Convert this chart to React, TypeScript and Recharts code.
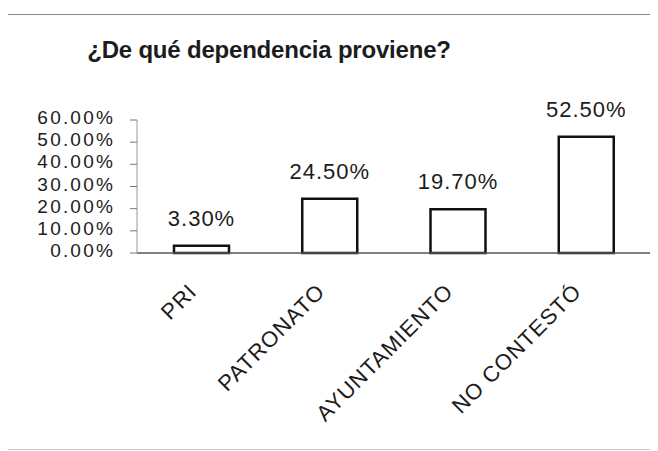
import { BarChart, Bar, XAxis, YAxis, LabelList } from "recharts";

const categories = ["PRI", "PATRONATO", "AYUNTAMIENTO", "NO CONTESTÓ"];
const values = [3.3, 24.5, 19.7, 52.5];
const yTicks = [0, 10, 20, 30, 40, 50, 60];
const title = "¿De qué dependencia proviene?";

const data = categories.map((name, i) => ({ name, value: values[i] }));

const FONT = "'Liberation Sans', Arial, sans-serif";
const INK = "#1c1c1c";

const pct = (v: number) => `${v.toFixed(2)}%`;

const XTick = (props: any) => {
  const { x, y, payload } = props;
  return (
    <g transform={`translate(${x - 3},${y + 40})`}>
      <text
        transform="rotate(-45)"
        textAnchor="end"
        fontFamily={FONT}
        fontSize={22}
        letterSpacing={1}
        fill={INK}
      >
        {payload.value}
      </text>
    </g>
  );
};

// tick rows are only ~22px apart, so a smaller font, spaced out to keep the width
const YTick = (props: any) => {
  const { x, y, payload } = props;
  return (
    <text
      x={x}
      y={y}
      dy={4}
      textAnchor="end"
      fontFamily={FONT}
      fontSize={19}
      letterSpacing={2.2}
      fill={INK}
    >
      {pct(payload.value)}
    </text>
  );
};

const ValueLabel = (props: any) => {
  const { x, y, width, value } = props;
  return (
    <text
      x={x + width / 2}
      y={y - 20}
      textAnchor="middle"
      fontFamily={FONT}
      fontSize={22}
      letterSpacing={1}
      fill={INK}
    >
      {pct(value)}
    </text>
  );
};

export default function App() {
  return (
    <div style={{ position: "relative", width: 650, height: 443, background: "#fff" }}>
      <div
        style={{
          position: "absolute",
          left: -1,
          top: 6,
          right: 0,
          height: 434,
          borderTop: "1px solid #8a8a8a",
          borderLeft: "1px solid #c8c8c8",
          borderBottom: "1px solid #c8c8c8",
        }}
      />
      <svg width={650} height={80} style={{ position: "absolute", left: 0, top: 0 }}>
        <text
          x={261}
          y={50}
          textAnchor="middle"
          fontFamily={FONT}
          fontSize={24}
          fontWeight="bold"
          letterSpacing={-0.2}
          fill={INK}
        >
          {title}
        </text>
      </svg>
      <div style={{ position: "absolute", left: 0, top: 0 }}>
        <BarChart
          width={650}
          height={443}
          data={data}
          margin={{ top: 112, right: 8, bottom: 0, left: 0 }}
          barCategoryGap={0}
        >
          <XAxis
            dataKey="name"
            height={198}
            interval={0}
            tickLine={false}
            tickSize={0}
            tickMargin={0}
            axisLine={{ stroke: "#555", strokeWidth: 1.5 }}
            tick={<XTick />}
          />
          <YAxis
            width={129}
            domain={[0, 60]}
            ticks={yTicks}
            interval={0}
            tickSize={7}
            tickMargin={15}
            axisLine={{ stroke: "#999", strokeWidth: 1 }}
            tickLine={{ stroke: "#777", strokeWidth: 1 }}
            tick={<YTick />}
          />
          <Bar
            dataKey="value"
            barSize={55}
            fill="#fff"
            stroke="#111"
            strokeWidth={2.5}
            isAnimationActive={false}
          >
            <LabelList dataKey="value" content={<ValueLabel />} />
          </Bar>
        </BarChart>
      </div>
    </div>
  );
}
